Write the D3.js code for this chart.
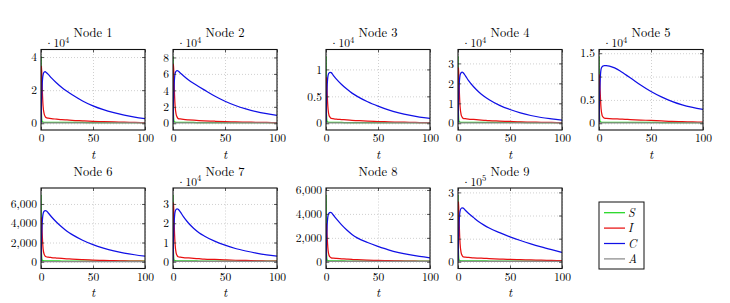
<!DOCTYPE html>
<html>
<head>
<meta charset="utf-8">
<script src="https://cdn.jsdelivr.net/npm/d3@7"></script>
<style>
  body { margin: 0; background: #fff; }
  svg { display: block; }
</style>
</head>
<body>
<script>
// time samples (same for every node)
const T = [0, 0.25, 0.5, 1, 1.5, 2, 3, 4, 5, 7, 10, 15, 20, 25, 30, 40, 50, 60, 70, 80, 90, 100];

const NODE_NAMES = ['Node 1', 'Node 2', 'Node 3', 'Node 4', 'Node 5', 'Node 6', 'Node 7', 'Node 8', 'Node 9'];
// power of ten shown above each y axis (0 = none)
const EXPONENTS = [4, 4, 4, 4, 4, 0, 4, 0, 5];
const Y_TICKS = [
	[0, 2, 4],
	[0, 2, 4, 6, 8],
	[0, 0.5, 1],
	[0, 1, 2, 3],
	[0, 0.5, 1, 1.5],
	[0, 2000, 4000, 6000],
	[0, 1, 2, 3],
	[0, 2000, 4000, 6000],
	[0, 1, 2, 3]
];
const X_TICKS = [0, 50, 100];

// values in the units of each axis (i.e. already divided by 10^exponent)
const S_VALUES = [
	[4.05, 1.42, 0.49, 0.12, 0.08, 0.07, 0.06, 0.06, 0.06, 0.06, 0.06, 0.05, 0.05, 0.05, 0.05, 0.05, 0.04, 0.04, 0.04, 0.04, 0.04, 0.04],
	[8.15, 2.85, 0.98, 0.24, 0.16, 0.14, 0.12, 0.12, 0.11, 0.11, 0.1, 0.1, 0.1, 0.09, 0.09, 0.09, 0.08, 0.08, 0.08, 0.08, 0.07, 0.07],
	[1.245, 0.44, 0.15, 0.04, 0.025, 0.02, 0.018, 0.017, 0.016, 0.016, 0.015, 0.015, 0.014, 0.014, 0.013, 0.013, 0.012, 0.012, 0.012, 0.011, 0.011, 0.011],
	[3.36, 1.18, 0.4, 0.1, 0.07, 0.06, 0.05, 0.05, 0.05, 0.05, 0.05, 0.04, 0.04, 0.04, 0.04, 0.04, 0.04, 0.04, 0.03, 0.03, 0.03, 0.03],
	[1.436, 0.5, 0.17, 0.04, 0.03, 0.025, 0.02, 0.02, 0.02, 0.02, 0.02, 0.02, 0.02, 0.02, 0.02, 0.02, 0.02, 0.015, 0.015, 0.015, 0.015, 0.015],
	[6960, 2440, 840, 210, 140, 110, 100, 95, 90, 90, 85, 85, 80, 80, 75, 75, 70, 70, 65, 65, 60, 60],
	[3.48, 1.22, 0.42, 0.1, 0.07, 0.06, 0.05, 0.05, 0.05, 0.05, 0.05, 0.05, 0.05, 0.04, 0.04, 0.04, 0.04, 0.04, 0.04, 0.04, 0.03, 0.03],
	[5605, 1960, 670, 170, 110, 90, 80, 75, 75, 70, 70, 70, 65, 65, 65, 60, 60, 60, 55, 55, 55, 50],
	[2.9, 1.02, 0.35, 0.09, 0.06, 0.05, 0.04, 0.04, 0.04, 0.04, 0.04, 0.04, 0.04, 0.04, 0.03, 0.03, 0.03, 0.03, 0.03, 0.03, 0.03, 0.03]
];
const I_VALUES = [
	[0.07, 2.93, 3.45, 2.48, 1.62, 1.04, 0.59, 0.41, 0.34, 0.31, 0.28, 0.25, 0.22, 0.2, 0.18, 0.15, 0.12, 0.1, 0.08, 0.07, 0.05, 0.04],
	[0.14, 6.12, 7.2, 5.18, 3.38, 2.16, 1.1, 0.75, 0.57, 0.53, 0.48, 0.42, 0.37, 0.33, 0.3, 0.25, 0.2, 0.17, 0.14, 0.12, 0.1, 0.08],
	[0.02, 0.72, 0.85, 0.61, 0.4, 0.26, 0.14, 0.11, 0.09, 0.085, 0.078, 0.07, 0.062, 0.055, 0.05, 0.04, 0.033, 0.027, 0.022, 0.018, 0.014, 0.011],
	[0.05, 2.37, 2.79, 2.0, 1.31, 0.84, 0.44, 0.31, 0.25, 0.23, 0.21, 0.19, 0.17, 0.15, 0.13, 0.11, 0.09, 0.07, 0.06, 0.05, 0.04, 0.03],
	[0.02, 0.88, 1.04, 0.75, 0.49, 0.31, 0.17, 0.13, 0.11, 0.105, 0.1, 0.095, 0.09, 0.085, 0.08, 0.07, 0.06, 0.05, 0.04, 0.035, 0.03, 0.025],
	[90, 3880, 4570, 3290, 2150, 1370, 800, 600, 520, 480, 440, 390, 345, 310, 275, 220, 180, 145, 115, 90, 70, 55],
	[0.06, 2.61, 3.07, 2.21, 1.44, 0.92, 0.46, 0.32, 0.26, 0.24, 0.22, 0.2, 0.18, 0.16, 0.14, 0.12, 0.1, 0.08, 0.07, 0.05, 0.04, 0.03],
	[60, 2700, 3180, 2290, 1500, 950, 520, 390, 330, 305, 280, 250, 220, 195, 175, 140, 115, 90, 70, 55, 45, 35],
	[0.05, 2.21, 2.6, 1.87, 1.22, 0.78, 0.4, 0.27, 0.21, 0.2, 0.19, 0.17, 0.16, 0.15, 0.14, 0.12, 0.1, 0.09, 0.08, 0.07, 0.06, 0.05]
];
const C_VALUES = [
	[0, 0.62, 1.31, 2.18, 2.68, 2.93, 3.09, 3.12, 3.07, 2.95, 2.74, 2.43, 2.16, 1.93, 1.72, 1.35, 1.05, 0.82, 0.64, 0.49, 0.37, 0.28],
	[0, 1.28, 2.69, 4.48, 5.5, 6.02, 6.34, 6.4, 6.35, 6.12, 5.78, 5.26, 4.83, 4.44, 4.06, 3.32, 2.68, 2.16, 1.75, 1.42, 1.17, 0.96],
	[0, 0.19, 0.4, 0.66, 0.81, 0.89, 0.935, 0.945, 0.94, 0.89, 0.82, 0.72, 0.635, 0.56, 0.5, 0.4, 0.32, 0.25, 0.195, 0.15, 0.115, 0.09],
	[0, 0.51, 1.08, 1.79, 2.2, 2.41, 2.53, 2.56, 2.53, 2.39, 2.15, 1.83, 1.57, 1.36, 1.18, 0.9, 0.69, 0.52, 0.39, 0.29, 0.22, 0.16],
	[0, 0.25, 0.52, 0.86, 1.06, 1.16, 1.21, 1.225, 1.232, 1.235, 1.225, 1.185, 1.125, 1.05, 0.975, 0.82, 0.68, 0.565, 0.47, 0.395, 0.34, 0.295],
	[0, 1060, 2230, 3710, 4560, 4980, 5250, 5300, 5290, 5060, 4670, 4100, 3600, 3160, 2820, 2240, 1780, 1420, 1130, 910, 730, 580],
	[0, 0.55, 1.16, 1.93, 2.37, 2.59, 2.72, 2.75, 2.72, 2.59, 2.34, 2.0, 1.73, 1.51, 1.34, 1.07, 0.86, 0.69, 0.56, 0.45, 0.36, 0.29],
	[0, 820, 1730, 2880, 3540, 3870, 4080, 4120, 4110, 3910, 3580, 3090, 2660, 2290, 2000, 1610, 1290, 1000, 770, 590, 450, 330],
	[0, 0.47, 0.98, 1.63, 2.0, 2.19, 2.31, 2.33, 2.32, 2.23, 2.1, 1.91, 1.73, 1.585, 1.46, 1.26, 1.08, 0.92, 0.775, 0.645, 0.525, 0.41]
];
const A_VALUES = [
	[0, 0.01, 0.01, 0.02, 0.02, 0.02, 0.02, 0.02, 0.02, 0.02, 0.02, 0.02, 0.02, 0.02, 0.02, 0.02, 0.02, 0.02, 0.02, 0.02, 0.02, 0.02],
	[0, 0.02, 0.03, 0.04, 0.04, 0.04, 0.04, 0.04, 0.04, 0.04, 0.04, 0.04, 0.04, 0.04, 0.04, 0.04, 0.04, 0.04, 0.04, 0.04, 0.04, 0.04],
	[0, 0.003, 0.004, 0.006, 0.006, 0.006, 0.006, 0.006, 0.006, 0.006, 0.006, 0.006, 0.006, 0.006, 0.006, 0.006, 0.006, 0.006, 0.006, 0.006, 0.006, 0.006],
	[0, 0.008, 0.01, 0.015, 0.015, 0.015, 0.015, 0.015, 0.015, 0.015, 0.015, 0.015, 0.015, 0.015, 0.015, 0.015, 0.015, 0.015, 0.015, 0.015, 0.015, 0.015],
	[0, 0.004, 0.005, 0.007, 0.007, 0.007, 0.007, 0.007, 0.007, 0.007, 0.007, 0.007, 0.007, 0.007, 0.007, 0.007, 0.007, 0.007, 0.007, 0.007, 0.007, 0.007],
	[0, 15, 20, 30, 30, 30, 30, 30, 30, 30, 30, 30, 30, 30, 30, 30, 30, 30, 30, 30, 30, 30],
	[0, 0.008, 0.012, 0.016, 0.016, 0.016, 0.016, 0.016, 0.016, 0.016, 0.016, 0.016, 0.016, 0.016, 0.016, 0.016, 0.016, 0.016, 0.016, 0.016, 0.016, 0.016],
	[0, 12, 18, 25, 25, 25, 25, 25, 25, 25, 25, 25, 25, 25, 25, 25, 25, 25, 25, 25, 25, 25],
	[0, 0.006, 0.009, 0.013, 0.013, 0.013, 0.013, 0.013, 0.013, 0.013, 0.013, 0.013, 0.013, 0.013, 0.013, 0.013, 0.013, 0.013, 0.013, 0.013, 0.013, 0.013]
];
const SERIES_NAMES = ['S', 'I', 'C', 'A'];

// ---- layout ----
const W = 730, H = 303;
const colX = [41, 173, 326, 458, 599];
const rowY = [49.5, 188];
const pw = 104, ph = 80.5;
const COLORS = ['#1fd61f', '#e81010', '#1010e6', '#8a8a8a'];
const FONT = "'Latin Modern Roman', 'Liberation Serif', serif";

const svg = d3.select('body').append('svg')
	.attr('width', W)
	.attr('height', H)
	.attr('viewBox', [0, 0, W, H]);
svg.append('rect').attr('width', W).attr('height', H).attr('fill', '#fff');

const fmtComma = d3.format(',');
const fmtPlain = d3.format('~g');

NODE_NAMES.forEach((name, i) => {
	const col = i < 5 ? i : i - 5;
	const row = i < 5 ? 0 : 1;
	const g = svg.append('g').attr('transform', `translate(${colX[col]},${rowY[row]})`);

	const series = [S_VALUES[i], I_VALUES[i], C_VALUES[i], A_VALUES[i]];
	const ymax = d3.max(series, s => d3.max(s));

	const x = d3.scaleLinear().domain([0, 100]).range([0, pw]);
	// pgfplots style: enlarge the y limits by 10%
	const y = d3.scaleLinear().domain([-0.1 * ymax, 1.1 * ymax]).range([ph, 0]);

	// dotted grid
	const gridX = g.append('g')
		.attr('transform', `translate(0,${ph})`)
		.call(d3.axisBottom(x).tickValues(X_TICKS).tickSize(-ph).tickFormat(''));
	const gridY = g.append('g')
		.call(d3.axisLeft(y).tickValues(Y_TICKS[i]).tickSize(-pw).tickFormat(''));
	[gridX, gridY].forEach(gg => {
		gg.select('.domain').remove();
		gg.selectAll('line')
			.attr('stroke', '#c4c4c4')
			.attr('stroke-width', 0.8)
			.attr('stroke-dasharray', '1,2');
	});

	// curves
	const clipId = 'clip' + i;
	g.append('clipPath').attr('id', clipId)
		.append('rect').attr('width', pw).attr('height', ph);
	const line = d3.line()
		.x((d, k) => x(T[k]))
		.y(d => y(d))
		.curve(d3.curveMonotoneX);
	series.forEach((s, k) => {
		g.append('path')
			.datum(s)
			.attr('clip-path', `url(#${clipId})`)
			.attr('fill', 'none')
			.attr('stroke', COLORS[k])
			.attr('stroke-width', 1.25)
			.attr('d', line);
	});

	// axes with inward ticks on all sides
	const yFmt = EXPONENTS[i] === 0 ? fmtComma : fmtPlain;
	const axes = [
		g.append('g').attr('transform', `translate(0,${ph})`)
			.call(d3.axisBottom(x).tickValues(X_TICKS).tickSizeInner(-3).tickSizeOuter(0).tickPadding(4)),
		g.append('g')
			.call(d3.axisLeft(y).tickValues(Y_TICKS[i]).tickSizeInner(-3).tickSizeOuter(0).tickPadding(4).tickFormat(yFmt)),
		g.append('g')
			.call(d3.axisTop(x).tickValues(X_TICKS).tickSizeInner(-3).tickSizeOuter(0).tickFormat('')),
		g.append('g').attr('transform', `translate(${pw},0)`)
			.call(d3.axisRight(y).tickValues(Y_TICKS[i]).tickSizeInner(-3).tickSizeOuter(0).tickFormat(''))
	];
	axes.forEach(a => {
		a.select('.domain').remove();
		a.attr('font-size', 11.5);
		a.selectAll('line').attr('stroke', '#333').attr('stroke-width', 0.8);
		a.selectAll('text').attr('fill', '#000');
	});

	// frame
	g.append('rect')
		.attr('width', pw)
		.attr('height', ph)
		.attr('fill', 'none')
		.attr('stroke', '#111')
		.attr('stroke-width', 1.1);

	// title
	g.append('text')
		.attr('x', pw / 2)
		.attr('y', -12.5)
		.attr('text-anchor', 'middle')
		.attr('font-size', 12.5)
		.attr('fill', '#000')
		.text(name);

	// exponent label
	if (EXPONENTS[i] !== 0) {
		const e = g.append('text')
			.attr('x', 3.5)
			.attr('y', -2.5)
			.attr('font-size', 11.5)
			.attr('fill', '#000');
		e.append('tspan').text('\u00b710');
		e.append('tspan').attr('dy', -4.5).attr('font-size', 8.5).text(EXPONENTS[i]);
	}

	// x label
	g.append('text')
		.attr('x', pw / 2)
		.attr('y', ph + 28.5)
		.attr('text-anchor', 'middle')
		.attr('font-style', 'italic')
		.attr('font-size', 12.5)
		.attr('fill', '#000')
		.text('t');
});

// legend
const leg = svg.append('g').attr('transform', 'translate(599,202)');
leg.append('rect')
	.attr('width', 45)
	.attr('height', 67)
	.attr('fill', '#fff')
	.attr('stroke', '#111')
	.attr('stroke-width', 1);
SERIES_NAMES.forEach((s, k) => {
	const yy = 10.7 + k * 15.4;
	leg.append('line')
		.attr('x1', 5).attr('x2', 26)
		.attr('y1', yy).attr('y2', yy)
		.attr('stroke', COLORS[k])
		.attr('stroke-width', 1.25);
	leg.append('text')
		.attr('x', 29)
		.attr('y', yy + 4)
		.attr('font-style', 'italic')
		.attr('font-size', 12)
		.attr('fill', '#000')
		.text(s);
});

// serif (LaTeX-like) face on every text, set as inline style so the axis defaults don't win
svg.selectAll('text').style('font-family', FONT);
</script>
</body>
</html>
